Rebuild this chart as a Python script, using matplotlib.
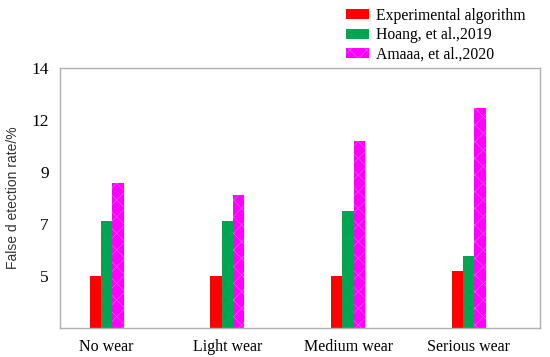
import numpy as np
import matplotlib.pyplot as plt
from matplotlib.patches import Patch

# categories and series
categories = ['No wear', 'Light wear', 'Medium wear', 'Serious wear']
experimental = [5.0, 5.0, 5.0, 5.2]
hoang = [7.1, 7.1, 7.5, 5.75]
amaaa = [8.55, 8.1, 10.75, 12.45]
series_names = ['Experimental algorithm', 'Hoang, et al.,2019', 'Amaaa, et al.,2020']

# the y axis is labelled unevenly: 5, 7, 9, 12, 14 at equal steps
ytick_vals = [5, 7, 9, 12, 14]
y_knots = [3, 5, 7, 9, 12, 14]
y_pos = [0, 1, 2, 3, 4, 5]


def fwd(v):
    return np.interp(v, y_knots, y_pos)


def inv(p):
    return np.interp(p, y_pos, y_knots)


plt.rcParams['font.family'] = ['Liberation Serif', 'DejaVu Serif']
plt.rcParams['hatch.linewidth'] = 0.5

fig = plt.figure(figsize=(5.5, 3.57), dpi=100)
ax = fig.add_axes([60/550, 1-328/357, 480/550, (328-67.5)/357])
ax.set_yscale('function', functions=(fwd, inv))

x = np.arange(len(categories))
w = 0.094
cols = ['#ff0000', '#00a651', '#ff00ff']
hcols = ['#ff0000', '#109a50', '#ff50ff']
hatches = [None, '..', 'xx']
for i, (vals, c, hc, h) in enumerate(zip([experimental, hoang, amaaa], cols, hcols, hatches)):
    ax.bar(x + (i - 1) * w, np.array(vals) - 3, bottom=3, width=w, color=c,
           edgecolor=hc, linewidth=0, hatch=h)

ax.set_xlim(-0.387, 3.59)
ax.set_ylim(3, 14)
ax.set_yticks(ytick_vals)
ax.set_yticklabels([str(v) for v in ytick_vals])
ax.yaxis.set_minor_locator(plt.NullLocator())
ax.set_xticks(x)
ax.set_xticklabels(categories)
ax.tick_params(axis='x', length=0, labelsize=11.5, pad=8)
ax.tick_params(axis='y', length=0, labelsize=12.5, pad=8)
for s in ax.spines.values():
    s.set_color('#b0b0b0')
    s.set_linewidth(1.0)

ax.set_ylabel('False d etection rate/%', family=['Liberation Sans', 'DejaVu Sans'],
              fontsize=10, color='#333333', labelpad=8)

handles = [Patch(facecolor=c, edgecolor=hc, linewidth=0, hatch=h)
           for c, hc, h in zip(cols, hcols, hatches)]
fig.legend(handles, series_names, loc='upper left', bbox_to_anchor=(346/550, 1 - 8/357),
           frameon=False, fontsize=11.3, handlelength=1.45, handleheight=0.6,
           handletextpad=0.45, labelspacing=0.2, borderpad=0, borderaxespad=0)

fig.savefig('out.png', dpi=100)
